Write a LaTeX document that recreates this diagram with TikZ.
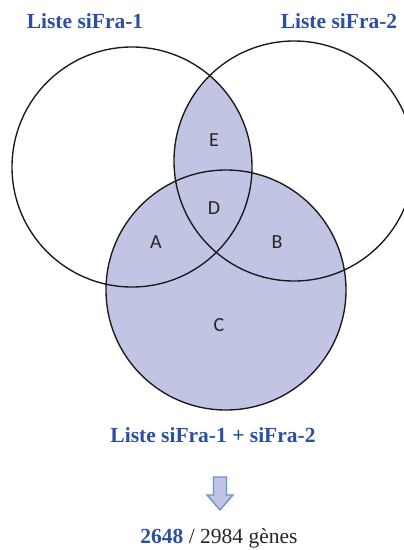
\documentclass[tikz,border=0pt]{standalone}
\usepackage{fontspec}
\setmainfont{Liberation Serif}
\newfontfamily\labfont{Carlito}
\definecolor{vfill}{RGB}{194,196,228}
\definecolor{ttl}{RGB}{43,80,160}
\definecolor{arrline}{RGB}{105,145,205}
\definecolor{arrfill}{RGB}{192,197,232}
\begin{document}
\begin{tikzpicture}[x=1pt,y=-1pt,
  ring/.style={draw=black!90,line width=1.35pt},
  region/.style={font=\labfont\fontsize{20}{20}\selectfont,text=black!85,inner sep=0pt},
  ttlstyle/.style={font=\bfseries\fontsize{21.5}{24}\selectfont,text=ttl,inner sep=0pt}]
\useasboundingbox (0,0) rectangle (404,550);
\coordinate (cL) at (132,167);
\coordinate (cR) at (294,161);
\coordinate (cB) at (226,290);
% fills
\fill[vfill] (cB) circle (120pt);
\begin{scope}
  \clip (cL) circle (120pt);
  \fill[vfill] (cR) circle (120pt);
\end{scope}
% outlines
\draw[ring] (cL) circle (120pt);
\draw[ring] (cR) circle (120pt);
\draw[ring] (cB) circle (120pt);
% region labels
\node[region] (E) at (214,140) {E};
\node[region] (D) at (214,208) {D};
\node[region] (A) at (156,242) {A};
\node[region] (B) at (277,242) {B};
\node[region] (C) at (219,325) {C};
% titles
\node[ttlstyle] (t1) at (85,21) {Liste siFra-1};
\node[ttlstyle] (t2) at (339,21) {Liste siFra-2};
\node[ttlstyle] (t3) at (213,435) {Liste siFra-1 + siFra-2};
% arrow
\draw[arrline,fill=arrfill,line width=1.3pt,line join=miter]
  (213.5,477) -- (226.5,477) -- (226.5,495) -- (233,495) -- (220,510)
  -- (207,495) -- (213.5,495) -- cycle;
% result
\node[inner sep=0pt,font=\fontsize{21.5}{24}\selectfont,text=black!85] (res) at (219,538)
  {\textbf{\color{ttl}2648} / 2984 gènes};
\end{tikzpicture}
\end{document}
